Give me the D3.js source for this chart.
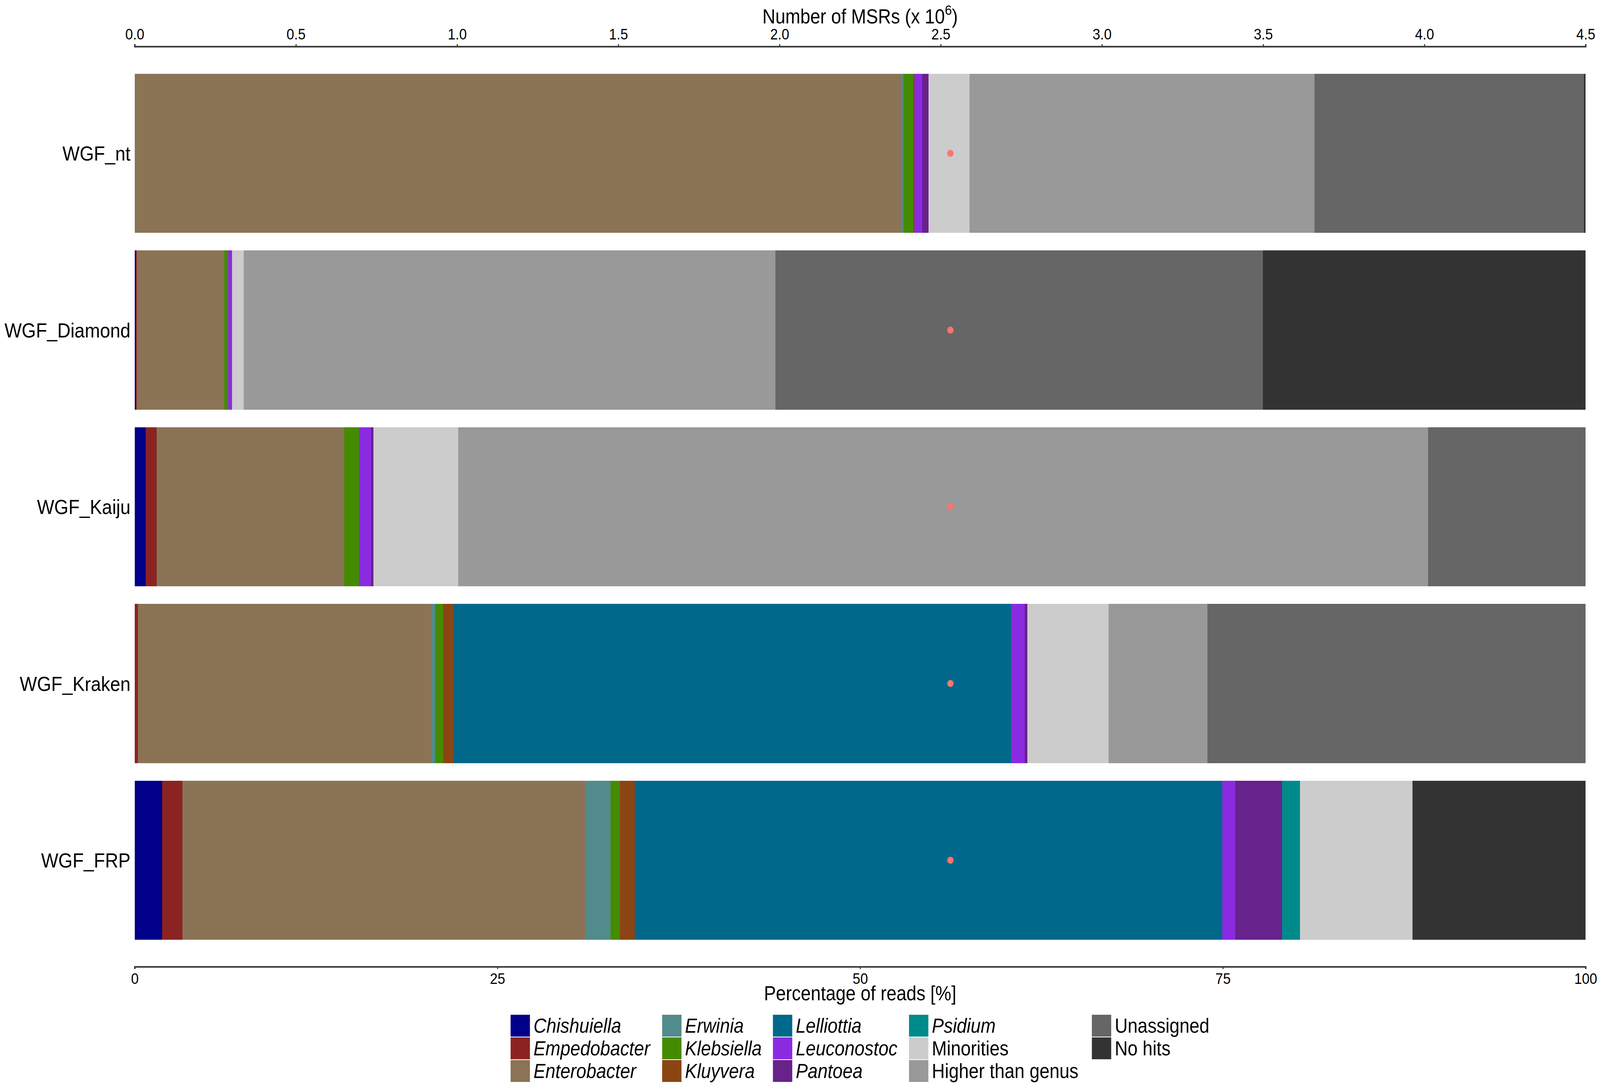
<!DOCTYPE html>
<html>
<head>
<meta charset="utf-8">
<script src="https://cdn.jsdelivr.net/npm/d3@7"></script>
<style>
  html, body { margin: 0; padding: 0; background: #ffffff; overflow: hidden; width: 100vw; height: 100vh; }
  svg { display: block; width: 100vw; height: 100vh; }
  text { font-family: "Liberation Sans", Arial, Helvetica, sans-serif; fill: #000; }
</style>
</head>
<body>
<svg id="chart" viewBox="0 0 4550 2783" preserveAspectRatio="none"></svg>
<script>
// ---------------- DATA ----------------
const samples = ["WGF_nt", "WGF_Diamond", "WGF_Kaiju", "WGF_Kraken", "WGF_FRP"];

const categories = ["Chishuiella", "Empedobacter", "Enterobacter", "Erwinia", "Klebsiella",
  "Kluyvera", "Lelliottia", "Leuconostoc", "Pantoea", "Psidium",
  "Minorities", "Higher than genus", "Unassigned", "No hits"];

const italicCategories = ["Chishuiella", "Empedobacter", "Enterobacter", "Erwinia", "Klebsiella",
  "Kluyvera", "Lelliottia", "Leuconostoc", "Pantoea", "Psidium"];

const categoryColors = ["#00008B", "#8B2323", "#8B7355", "#528B8B", "#458B00",
  "#8B4513", "#00688B", "#8A2BE2", "#68228B", "#008B8B",
  "#CCCCCC", "#999999", "#666666", "#333333"];

// percentage of reads, per sample in order of `samples`
const chishuiella     = [0,     0.08,  0.77,  0,     1.90];
const empedobacter    = [0,     0.05,  0.74,  0.22,  1.39];
const enterobacter    = [52.88, 6.03,  12.93, 20.23, 27.75];
const erwinia         = [0.12,  0,     0,     0.26,  1.76];
const klebsiella      = [0.65,  0.28,  1.01,  0.55,  0.65];
const kluyvera        = [0.10,  0,     0,     0.73,  1.02];
const lelliottia      = [0,     0,     0,     38.42, 40.48];
const leuconostoc     = [0.53,  0.28,  0.85,  0.93,  0.91];
const pantoea         = [0.44,  0,     0.16,  0.19,  3.21];
const psidium         = [0,     0,     0,     0,     1.25];
const minorities      = [2.81,  0.79,  5.83,  5.59,  7.75];
const higherThanGenus = [23.78, 36.66, 66.85, 6.82,  0];
const unassigned      = [18.57, 33.60, 10.86, 26.06, 0];
const noHits          = [0.12,  22.23, 0,     0,     11.93];

// marker (number of MSRs, x 10^6) shown as a dot on each bar
const msrMarker = [2.53, 2.53, 2.53, 2.53, 2.53];

const pctTicks = [0, 25, 50, 75, 100];
const msrTicks = [0, 0.5, 1.0, 1.5, 2.0, 2.5, 3.0, 3.5, 4.0, 4.5];

const seriesValues = [chishuiella, empedobacter, enterobacter, erwinia, klebsiella,
  kluyvera, lelliottia, leuconostoc, pantoea, psidium,
  minorities, higherThanGenus, unassigned, noHits];

// ---------------- LAYOUT ----------------
const svg = d3.select("#chart");
const plotLeft = 383, plotRight = 4509;
const plotTop = 189, plotBottom = 2406;

const x = d3.scaleLinear().domain([0, 100]).range([plotLeft, plotRight]);
const xMsr = d3.scaleLinear().domain([0, 4.5]).range([plotLeft, plotRight]);
const y = d3.scaleBand().domain(samples).range([plotTop, plotBottom]).paddingInner(0.1).paddingOuter(0);
const color = d3.scaleOrdinal().domain(categories).range(categoryColors);

// build table for stacking
const table = samples.map((s, i) => {
  const row = { sample: s };
  categories.forEach((c, j) => { row[c] = seriesValues[j][i]; });
  return row;
});
const stacked = d3.stack().keys(categories)(table);

// ---------------- BARS ----------------
const gBars = svg.append("g");
gBars.selectAll("g.series")
  .data(stacked)
  .join("g")
  .attr("class", "series")
  .attr("fill", d => color(d.key))
  .selectAll("rect")
  .data(d => d)
  .join("rect")
  .attr("x", d => x(d[0]))
  .attr("width", d => Math.max(0, x(Math.min(d[1], 100)) - x(d[0])))
  .attr("y", d => y(d.data.sample))
  .attr("height", y.bandwidth())
  .attr("shape-rendering", "crispEdges");

// markers
svg.append("g").selectAll("ellipse")
  .data(samples)
  .join("ellipse")
  .attr("cx", (d, i) => xMsr(msrMarker[i]))
  .attr("cy", d => y(d) + y.bandwidth() / 2)
  .attr("rx", 9)
  .attr("ry", 9)
  .attr("fill", "#F8766D");

// ---------------- AXES ----------------
const axisColor = "#333333";

const topAxis = svg.append("g")
  .attr("transform", `translate(0,119)`)
  .call(d3.axisTop(xMsr).tickValues(msrTicks).tickFormat(d3.format(".1f")).tickSize(6).tickSizeOuter(6).tickPadding(12));
topAxis.select(".domain").attr("stroke", axisColor).attr("stroke-width", 4);
topAxis.selectAll(".tick line").attr("stroke", axisColor).attr("stroke-width", 3);
topAxis.selectAll(".tick text").attr("font-size", 39).attr("font-family", "Liberation Sans, Arial, sans-serif").attr("fill", "#000");

const bottomAxis = svg.append("g")
  .attr("transform", `translate(0,2475)`)
  .call(d3.axisBottom(x).tickValues(pctTicks).tickFormat(d3.format("d")).tickSize(6).tickSizeOuter(6).tickPadding(10));
bottomAxis.select(".domain").attr("stroke", axisColor).attr("stroke-width", 4);
bottomAxis.selectAll(".tick line").attr("stroke", axisColor).attr("stroke-width", 3);
bottomAxis.selectAll(".tick text").attr("font-size", 39).attr("font-family", "Liberation Sans, Arial, sans-serif").attr("fill", "#000");

// axis titles
const topTitle = svg.append("text")
  .attr("x", (plotLeft + plotRight) / 2)
  .attr("y", 60)
  .attr("text-anchor", "middle")
  .attr("font-size", 51);
topTitle.append("tspan").text("Number of MSRs (x 10");
topTitle.append("tspan").text("6").attr("font-size", 36).attr("dy", -22);
topTitle.append("tspan").text(")").attr("dy", 22);

svg.append("text")
  .attr("x", (plotLeft + plotRight) / 2)
  .attr("y", 2561)
  .attr("text-anchor", "middle")
  .attr("font-size", 51)
  .text("Percentage of reads [%]");

// row labels
svg.append("g").selectAll("text")
  .data(samples)
  .join("text")
  .attr("x", 371)
  .attr("y", d => y(d) + y.bandwidth() / 2)
  .attr("dy", "0.36em")
  .attr("text-anchor", "end")
  .attr("font-size", 52)
  .text(d => d);

// ---------------- LEGEND ----------------
const legendCols = [1452, 1883, 2198, 2585, 3105];
const legendTop = 2598, legendStep = 58, swW = 55, swH = 56;
const legend = svg.append("g");
categories.forEach((c, i) => {
  const col = Math.floor(i / 3), row = i % 3;
  const lx = legendCols[col], ly = legendTop + row * legendStep;
  legend.append("rect")
    .attr("x", lx).attr("y", ly)
    .attr("width", swW).attr("height", swH)
    .attr("fill", color(c));
  legend.append("text")
    .attr("x", lx + swW + 10)
    .attr("y", ly + swH / 2)
    .attr("dy", "0.36em")
    .attr("font-size", 51)
    .attr("font-style", italicCategories.includes(c) ? "italic" : "normal")
    .text(c);
});
</script>
</body>
</html>
